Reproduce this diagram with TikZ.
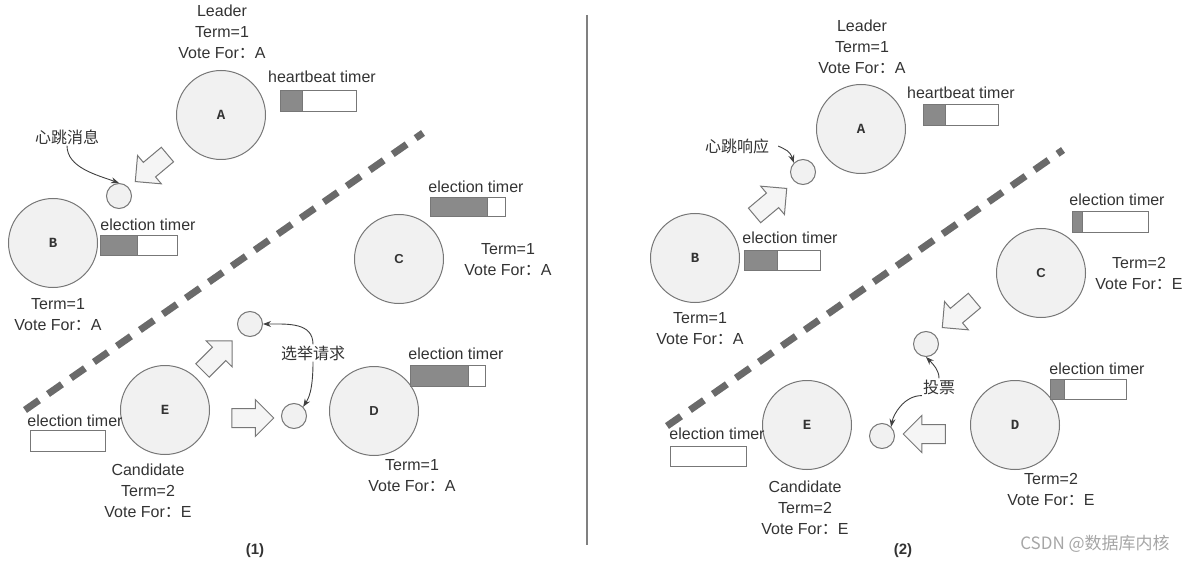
\documentclass[tikz,border=0pt]{standalone}
\usepackage{fontspec}
\setmainfont{Liberation Sans}
\newfontfamily\cjk{Noto Sans CJK SC}
\newfontfamily\monob{Liberation Mono}
\usetikzlibrary{shapes.arrows,arrows.meta}
\definecolor{edgec}{HTML}{777777}
\definecolor{circfill}{HTML}{F1F1F1}
\definecolor{txt}{HTML}{333333}
\definecolor{tgray}{HTML}{8A8A8A}
\definecolor{dashc}{HTML}{6A6A6A}
\definecolor{arrfill}{HTML}{F5F5F5}
\newcommand{\vf}[1]{Vote For{\cjk ：}#1}
\begin{document}
\begin{tikzpicture}[x=1pt,y=-1pt,
  every node/.style={text=txt},
  lbl/.style={font=\fontsize{16}{21}\selectfont, align=center, inner sep=0pt},
  zh/.style={font=\cjk\fontsize{16}{21}\selectfont, inner sep=1pt},
  server/.style={circle, draw=edgec, line width=1pt, fill=circfill, minimum size=89pt, inner sep=0pt, font=\monob\bfseries\fontsize{14}{14}\selectfont},
  sansletter/.style={font=\bfseries\fontsize{13}{13}\selectfont},
  msg/.style={circle, draw=edgec, line width=1pt, fill=circfill, minimum size=25pt, inner sep=0pt},
  blockarrow/.style={single arrow, draw=edgec, line width=1pt, fill=arrfill, minimum height=42pt, inner xsep=0pt, inner ysep=9pt, single arrow head extend=9pt},
  tbox/.style={draw=edgec, line width=0.8pt, fill=white},
  tfill/.style={draw=edgec, line width=0.8pt, fill=tgray},
  conn/.style={draw=darkgray, line width=0.9pt, -{Stealth[length=8pt,width=6pt]}},
  sep/.style={dash pattern=on 17pt off 11pt, line width=7pt, draw=dashc}
]
\useasboundingbox (0,0) rectangle (1197,564);

% separator
\draw[line width=2pt, draw=gray] (587,15) -- (587,545);

%%%%%%%%%%%%%%%% Panel 1
\draw[sep] (25,410) -- (423,133);

\node[lbl] (ldr1) at (222,32) {Leader\\Term=1\\\vf{A}};
\node[server] (a1) at (221,115) {A};
\node[lbl] (hb1) at (322,77) {heartbeat timer};
\draw[tbox] (280,90) rectangle (356,111);
\draw[tfill] (280,90) rectangle (302,111);

\node[zh] (xt1) at (67,137) {心跳消息};
\node[msg] (m1) at (119,196) {};
\node[blockarrow, rotate=220] (ar1) at (155,165) {};
\draw[conn] (xt1.south) .. controls +(0,22) and +(-22,-8) .. (m1.north);

\node[server] (b1) at (53,243) {B};
\node[lbl] (etb1) at (148,225) {election timer};
\draw[tbox] (100,235) rectangle (177,255);
\draw[tfill] (100,235) rectangle (137,255);
\node[lbl] (tb1) at (58,315) {Term=1\\\vf{A}};

\node[server, sansletter] (c1) at (399,259) {C};
\node[lbl] (etc1) at (476,187) {election timer};
\draw[tbox] (430,197) rectangle (505,216);
\draw[tfill] (430,197) rectangle (487,216);
\node[lbl] (tc1) at (508,260) {Term=1\\\vf{A}};

\node[server] (e1) at (165,410) {E};
\node[lbl] (ete1) at (75,421) {election timer};
\draw[tbox] (30,430) rectangle (105,451);
\node[lbl] (te1) at (148,491) {Candidate\\Term=2\\\vf{E}};

\node[msg] (m2) at (250,324) {};
\node[msg] (m3) at (294,416) {};
\node[blockarrow, rotate=45] (ar2) at (214,359) {};
\node[blockarrow] (ar3) at (248,418) {};
\node[zh] (xj1) at (313,353) {选举请求};
\draw[conn] (xj1.north) .. controls +(0,-22) and +(25,0) .. (m2.east);
\draw[conn] (xj1.south) .. controls +(0,30) and +(5,-8) .. (m3.north east);

\node[server, sansletter] (d1) at (374,411) {D};
\node[lbl] (etd1) at (456,354) {election timer};
\draw[tbox] (410,365) rectangle (485,386);
\draw[tfill] (410,365) rectangle (468,386);
\node[lbl] (td1) at (412,476) {Term=1\\\vf{A}};

\node[font=\bfseries\fontsize{15}{15}\selectfont] (p1) at (255,551) {(1)};

%%%%%%%%%%%%%%%% Panel 2
\draw[sep] (667,426) -- (1063,150);

\node[lbl] (ldr2) at (862,47) {Leader\\Term=1\\\vf{A}};
\node[server] (a2) at (861,129) {A};
\node[lbl] (hb2) at (961,93) {heartbeat timer};
\draw[tbox] (923,104) rectangle (998,125);
\draw[tfill] (923,104) rectangle (945,125);

\node[zh] (xt2) at (737,146) {心跳响应};
\node[msg] (m4) at (803,172) {};
\node[blockarrow, rotate=40] (ar4) at (767,205) {};
\draw[conn] ([xshift=8pt]xt2.east) .. controls +(8,4) and +(-4,-12) .. (m4.north west);

\node[server] (b2) at (695,258) {B};
\node[lbl] (etb2) at (790,238) {election timer};
\draw[tbox] (744,250) rectangle (820,270);
\draw[tfill] (744,250) rectangle (777,270);
\node[lbl] (tb2) at (700,329) {Term=1\\\vf{A}};

\node[server, sansletter] (c2) at (1041,273) {C};
\node[lbl] (etc2) at (1117,200) {election timer};
\draw[tbox] (1072,211) rectangle (1148,232);
\draw[tfill] (1072,211) rectangle (1082,232);
\node[lbl] (tc2) at (1139,273) {Term=2\\\vf{E}};

\node[blockarrow, rotate=220] (ar5) at (962,311) {};
\node[msg] (m5) at (926,344) {};
\node[zh] (tp2) at (939,387) {投票};
\draw[conn] (tp2.north) .. controls +(0,-8) and +(8,8) .. (m5.south);
\node[msg] (m6) at (882,436) {};
\node[blockarrow, rotate=180] (ar6) at (929,434) {};
\draw[conn] (tp2.south west) .. controls +(-18,0) and +(2,-12) .. (m6.north east);

\node[server] (d2) at (1015,425) {D};
\node[lbl] (etd2) at (1097,369) {election timer};
\draw[tbox] (1050,379) rectangle (1126,399);
\draw[tfill] (1050,379) rectangle (1064,399);
\node[lbl] (td2) at (1051,489) {Term=2\\\vf{E}};

\node[server] (e2) at (807,425) {E};
\node[lbl] (ete2) at (717,434) {election timer};
\draw[tbox] (670,446) rectangle (746,466);
\node[lbl] (te2) at (805,508) {Candidate\\Term=2\\\vf{E}};

\node[font=\bfseries\fontsize{15}{15}\selectfont] (p2) at (903,551) {(2)};
\node[font=\cjk\fontsize{17}{17}\selectfont, text=gray!70] (wm) at (1095,544) {CSDN @数据库内核};
\end{tikzpicture}
\end{document}
